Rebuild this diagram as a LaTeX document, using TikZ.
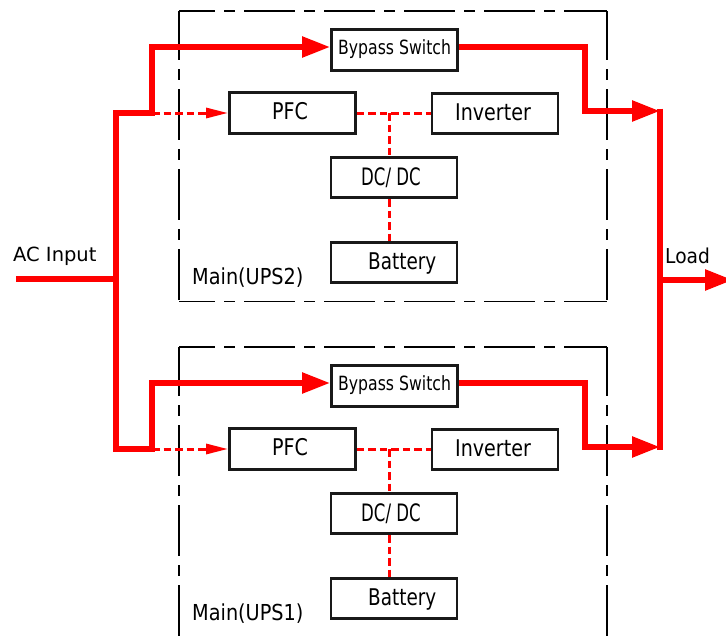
\documentclass[tikz,border=0pt]{standalone}
\usepackage{fontspec}
\setmainfont{DejaVu Sans}
\usepackage{graphicx}
\usetikzlibrary{arrows.meta,calc}
\newcommand{\lbl}[3]{\fontsize{#1}{#1}\selectfont\scalebox{#2}[1]{#3}}
\begin{document}
\begin{tikzpicture}[x=1pt,y=-1pt,
  box/.style={draw=black!90,line width=2.9pt,minimum width=126pt,minimum height=40.5pt,inner sep=0pt},
  txt/.style={anchor=base west,inner sep=0pt},
  power/.style={draw=red,line width=5.5pt,line join=miter},
  bigtip/.style={-{Triangle[length=28pt,width=20pt]}},
  ctrl/.style={draw=red,line width=3pt,dash pattern=on 7.5pt off 4pt},
  frameedge/.style={draw=black,line width=1.6pt,dash pattern=on 51pt off 9pt on 11pt off 9pt}
]
\useasboundingbox (0,0) rectangle (726,637);

\foreach \n/\dy in {2/0,1/336}{
\begin{scope}[shift={(0,\dy)}]
  % frame
  \draw[frameedge,dash phase=15pt] (179,11) -- (607,11);
  \draw[frameedge,dash phase=2pt] (179,11) -- (179,301.5);
  \draw[frameedge,dash phase=2pt] (607,11) -- (607,301.5);
  \draw[frameedge,dash phase=15pt] (179,301.5) -- (607,301.5);
  % boxes
  \node[box] (byp\n) at (394.5,50) {};
  \node[box] (pfc\n) at (292.5,113) {};
  \node[box] (inv\n) at (495,113.5) {};
  \node[box] (dc\n)  at (394,177.5) {};
  \node[box] (bat\n) at (394,262.5) {};
  % labels
  \node[txt] (tbyp\n) at (338,54) {\lbl{19.6}{0.8}{Bypass Switch}};
  \node[txt] (tpfc\n) at (272,119) {\lbl{23}{0.83}{PFC}};
  \node[txt] (tinv\n) at (455,120) {\lbl{23}{0.83}{Inverter}};
  \node[txt] (tdc\n)  at (361,185) {\lbl{24}{0.69}{DC/ DC}};
  \node[txt] (tbat\n) at (368,269) {\lbl{23}{0.8}{Battery}};
  \node[txt] (tmain\n) at (192,284) {\lbl{22}{0.876}{Main(UPS\n)}};
  % internal control links
  \coordinate (jl\n) at (152,113);
  \coordinate (jc\n) at (389,113);
  \coordinate (rb\n) at (660,111);
  \draw[ctrl,-{Triangle[length=22pt,width=10pt]}] (jl\n) -- (pfc\n.west);
  \draw[ctrl] (pfc\n.east) -- (pfc\n.east -| inv\n.west);
  \draw[ctrl] (jc\n) -- (jc\n |- dc\n.north);
  \draw[ctrl] (dc\n.south -| jc\n) -- (bat\n.north -| jc\n);
  % bypass output
  \draw[power,bigtip] ($(byp\n.east)+(0,-3)$) -- (585,47) -- (585,111) -- (rb\n);
\end{scope}
}

% input bus
\coordinate (acin) at (16,279);
\coordinate (lbus) at (116,279);
\draw[power,{Triangle[length=28pt,width=20pt]}-{Triangle[length=28pt,width=20pt]}]
  ($(byp2.west)+(0,-3)$) -- (152,47) -- (jl2) -- (116,113) -- (116,449) -- (jl1) -- (152,383) -- ($(byp1.west)+(0,-3)$);
\draw[power] (acin) -- (lbus);
\node[txt] (tac) at (13,261) {\lbl{19.5}{1.0}{AC Input}};

% load bus
\coordinate (ltop) at (660,108.5);
\coordinate (lbot) at (660,449.5);
\coordinate (lmid) at (660,280);
\coordinate (lout) at (733,280);
\draw[power] (ltop) -- (lbot);
\draw[power,bigtip] (lmid) -- (lout);
\node[txt] (tload) at (665,263) {\lbl{20.5}{0.91}{Load}};
\end{tikzpicture}
\end{document}
